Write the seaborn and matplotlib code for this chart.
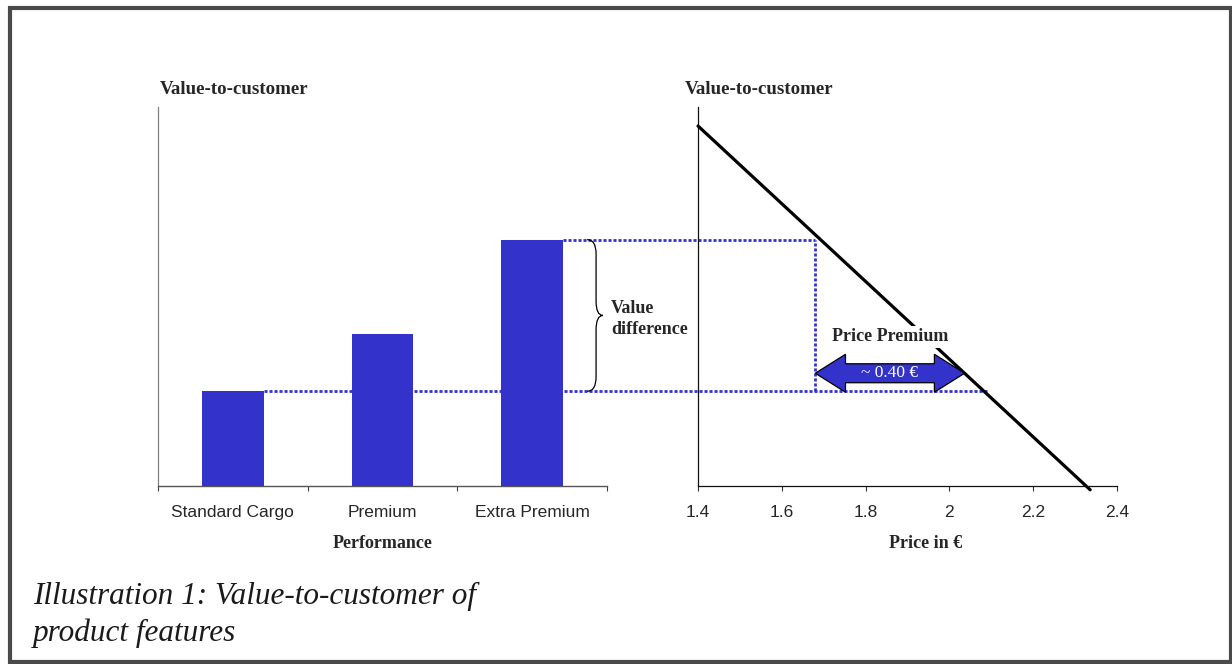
import numpy as np
import pandas as pd
import matplotlib
matplotlib.use("Agg")
import matplotlib.pyplot as plt
import seaborn as sns
from matplotlib.patches import Polygon, PathPatch, Rectangle
from matplotlib.path import Path

# ---------------- data ----------------
categories = ["Standard Cargo", "Premium", "Extra Premium"]
value_to_customer = [1.0, 1.6, 2.6]
price = [1.4, 2.336]
price_value = [3.8, -0.04]
price_ticks = [1.4, 1.6, 1.8, 2.0, 2.2, 2.4]
price_tick_labels = ["1.4", "1.6", "1.8", "2", "2.2", "2.4"]
premium_prices = [1.68, 2.09]
premium_label = "~ 0.40 €"

BLUE = "#3333CC"
SERIF = ["Liberation Serif", "DejaVu Serif"]
SANS = ["Liberation Sans", "DejaVu Sans"]

sns.set_theme(style="white")
plt.rcParams["font.family"] = SERIF

W, H = 1232, 664
fig = plt.figure(figsize=(W / 100, H / 100), dpi=100)
fig.patch.set_facecolor("white")


def fx(px):
    return px / W


def fy(py):
    return 1 - py / H


ax1 = fig.add_axes([fx(158), fy(486), fx(607) - fx(158), fy(107) - fy(486)])
ax2 = fig.add_axes([fx(698), fy(486), fx(1117) - fx(698), fy(107) - fy(486)])
ax1.patch.set_alpha(0)
ax2.patch.set_alpha(0)

# ---------------- left: bars ----------------
bar_df = pd.DataFrame({"Performance": categories, "Value": value_to_customer})
sns.barplot(data=bar_df, x="Performance", y="Value", ax=ax1, color=BLUE,
            saturation=1, width=0.41, linewidth=0, zorder=3)
ax1.set_xlim(-0.5, 2.5)
ax1.set_ylim(0, 4)
ax1.set_xlabel("")
ax1.set_ylabel("")
ax1.set_yticks([])
ax1.set_xticks([-0.5, 0.5, 1.5, 2.5])
ax1.set_xticklabels([])
ax1.set_xticks([0, 1, 2], minor=True)
ax1.set_xticklabels(categories, minor=True, fontfamily=SANS, fontsize=12.5)
ax1.tick_params(axis="x", which="major", bottom=True, length=3.6, width=0.8,
                color="#404040", direction="out")
ax1.tick_params(axis="x", which="minor", bottom=True, length=0, pad=14)
for s in ("top", "right"):
    ax1.spines[s].set_visible(False)
ax1.spines["left"].set_color("#808080")
ax1.spines["left"].set_linewidth(0.9)
ax1.spines["bottom"].set_color("#555555")
ax1.spines["bottom"].set_linewidth(1.0)
ax1.text(0.5, -0.153, "Performance", transform=ax1.transAxes, ha="center",
         va="center", fontweight="bold", fontsize=13)

# ---------------- right: line ----------------
sns.lineplot(x=price, y=price_value, ax=ax2, color="black", lw=2.3)
for ln in ax2.lines:
    ln.set_clip_on(False)
ax2.set_xlim(1.4, 2.4)
ax2.set_ylim(0, 4)
ax2.set_yticks([])
ax2.set_xticks(price_ticks)
ax2.set_xticklabels(price_tick_labels, fontfamily=SANS, fontsize=12.5)
ax2.tick_params(axis="x", bottom=True, length=3.6, width=0.8, color="#333333",
                direction="out", pad=10.4)
for s in ("top", "right"):
    ax2.spines[s].set_visible(False)
for s in ("left", "bottom"):
    ax2.spines[s].set_color("#111111")
    ax2.spines[s].set_linewidth(0.9)
ax2.text(0.544, -0.153, "Price in €", transform=ax2.transAxes, ha="center",
         va="center", fontweight="bold", fontsize=13)

# ---------------- dotted guide lines ----------------
bars = ax1.patches
right_edge_low = bars[0].get_x() + bars[0].get_width()
right_edge_high = bars[2].get_x() + bars[2].get_width()
low_v, high_v = value_to_customer[0], value_to_customer[2]


def price_in_ax1(p, v):
    disp = ax2.transData.transform((p, v))
    return ax1.transData.inverted().transform(disp)[0]


DOTS = (0, (1.1, 0.7))
DLW = 2.0
ax1.plot([right_edge_low, price_in_ax1(premium_prices[1], low_v)], [low_v, low_v],
         color=BLUE, lw=DLW, ls=DOTS, zorder=1, clip_on=False, dash_capstyle="butt")
ax1.plot([right_edge_high, price_in_ax1(premium_prices[0], high_v)], [high_v, high_v],
         color=BLUE, lw=DLW, ls=DOTS, zorder=1, clip_on=False, dash_capstyle="butt")
ax2.plot([premium_prices[0], premium_prices[0]], [low_v, high_v], color=BLUE,
         lw=DLW, ls=DOTS, zorder=1, clip_on=False, dash_capstyle="butt")

# brace
mid_v = (low_v + high_v) / 2
x_end, x_sp, x_tip = 2.367, 2.427, 2.473
r = 0.15
verts = [(x_end, high_v), (x_sp, high_v), (x_sp, high_v - r),
         (x_sp, mid_v + r), (x_sp, mid_v), (x_tip, mid_v),
         (x_sp, mid_v), (x_sp, mid_v - r),
         (x_sp, low_v + r), (x_sp, low_v), (x_end, low_v)]
codes = [Path.MOVETO, Path.CURVE3, Path.CURVE3,
         Path.LINETO, Path.CURVE3, Path.CURVE3,
         Path.CURVE3, Path.CURVE3,
         Path.LINETO, Path.CURVE3, Path.CURVE3]
ax1.add_patch(PathPatch(Path(verts, codes), fill=False, ec="black", lw=0.9,
                        clip_on=False, zorder=4))
ax1.text(2.527, mid_v - 0.04, "Value\ndifference", ha="left", va="center",
         fontweight="bold", fontsize=13, linespacing=1.3)

# double arrow for price premium
yc, bh, hh, hl = 1.19, 0.1, 0.2, 0.072
xl = premium_prices[0]
xr = float(np.interp(yc, price_value[::-1], price[::-1]))
arrow_pts = [(xl, yc), (xl + hl, yc + hh), (xl + hl, yc + bh), (xr - hl, yc + bh),
             (xr - hl, yc + hh), (xr, yc), (xr - hl, yc - hh), (xr - hl, yc - bh),
             (xl + hl, yc - bh), (xl + hl, yc - hh)]
ax2.add_patch(Polygon(arrow_pts, closed=True, fc=BLUE, ec="black", lw=0.9,
                      zorder=6, clip_on=False))
ax2.text((xl + xr) / 2, yc, premium_label, color="white", ha="center",
         va="center", fontsize=12.5, zorder=7)
ax2.text((xl + xr) / 2, yc + 0.385, "Price Premium", ha="center", va="center",
         fontweight="bold", fontsize=13, zorder=5,
         bbox=dict(boxstyle="square,pad=0.15", fc="white", ec="none"))

# titles
fig.text(fx(160), fy(90), "Value-to-customer", ha="left", va="center",
         fontweight="bold", fontsize=13.6)
fig.text(fx(685), fy(90), "Value-to-customer", ha="left", va="center",
         fontweight="bold", fontsize=13.6)

# caption
fig.text(fx(33), fy(615), "Illustration 1: Value-to-customer of\nproduct features",
         ha="left", va="center", style="italic", fontsize=22.5,
         linespacing=1.36, color="#1a1a1a")

# frame
fig.add_artist(Rectangle((fx(10), fy(661.5)), fx(1230.5) - fx(10),
                         fy(7.5) - fy(661.5), transform=fig.transFigure,
                         fill=False, ec="#4a4a4a", lw=3))

fig.savefig("out.png", dpi=100)
